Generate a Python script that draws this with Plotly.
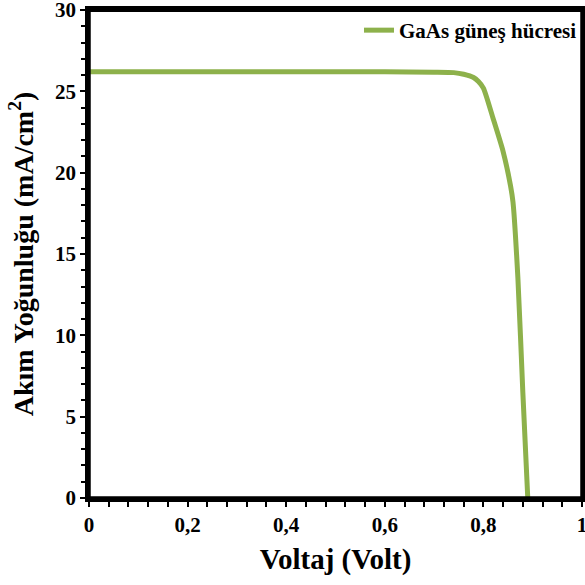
import plotly.graph_objects as go

voltage = [0, 0.1, 0.2, 0.3, 0.4, 0.5, 0.6, 0.7, 0.74, 0.76, 0.78, 0.79, 0.80, 0.82, 0.84, 0.855, 0.86, 0.87, 0.88, 0.89]
current = [26.2, 26.2, 26.2, 26.2, 26.2, 26.2, 26.2, 26.18, 26.15, 26.05, 25.85, 25.6, 25.2, 23.3, 21.3, 19.2, 18.2, 13.5, 6.5, 0]

series_name = "GaAs güneş hücresi"
x_ticks = [0, 0.2, 0.4, 0.6, 0.8, 1]
x_ticklabels = ["0", "0,2", "0,4", "0,6", "0,8", "1"]
y_ticks = [0, 5, 10, 15, 20, 25, 30]
y_ticklabels = ["0", "5", "10", "15", "20", "25", "30"]

font_family = "Liberation Serif, Times New Roman, DejaVu Serif, serif"
green = "#8DB14B"

fig = go.Figure()
fig.add_trace(go.Scatter(
    x=voltage, y=current, mode="lines", name=series_name,
    line=dict(color=green, width=5, shape="spline", smoothing=0.6),
    showlegend=True,
))

axis_common = dict(
    showline=True, linecolor="black", linewidth=3.5, mirror=True,
    ticks="outside", ticklen=5, tickwidth=2, tickcolor="black",
    showgrid=False, zeroline=False, automargin=False,
    ticklabeloverflow="allow",
    tickfont=dict(family=font_family, size=21, color="black", weight="bold"),
)

fig.update_layout(
    width=585, height=585,
    margin=dict(l=89, r=3, t=10, b=87),
    paper_bgcolor="white", plot_bgcolor="white",
    font=dict(family=font_family, color="black"),
    xaxis=dict(
        range=[0, 1], tickvals=x_ticks, ticktext=x_ticklabels,
        minor=dict(ticks="outside", dtick=0.04, ticklen=5, tickwidth=2, tickcolor="black"),
        title=dict(text="Voltaj (Volt)", font=dict(size=29, family=font_family, weight="bold"), standoff=14),
        **axis_common,
    ),
    yaxis=dict(
        range=[0, 30], tickvals=y_ticks, ticktext=y_ticklabels,
        minor=dict(ticks="outside", dtick=1, ticklen=4, tickwidth=2, tickcolor="black"),
        title=dict(text="Akım Yoğunluğu (mA/cm<sup>2</sup>)", font=dict(size=28, family=font_family, weight="bold"), standoff=14),
        **axis_common,
    ),
    legend=dict(
        x=1, y=1, xanchor="right", yanchor="top",
        bgcolor="rgba(0,0,0,0)", borderwidth=0,
        font=dict(family=font_family, size=21, color="black", weight="bold"),
        itemwidth=30,
    ),
    shapes=[
        dict(type="rect", xref="paper", yref="paper", x0=0, x1=1, y0=0, y1=1,
             line=dict(color="black", width=3.5), layer="above"),
        dict(type="line", xref="paper", yref="paper", x0=0, x1=1, y0=1, y1=1,
             line=dict(color="black", width=4), layer="above"),
    ],
)

fig.write_html("out.html", post_script="document.body.style.margin='0';",
               config={"displayModeBar": False})
